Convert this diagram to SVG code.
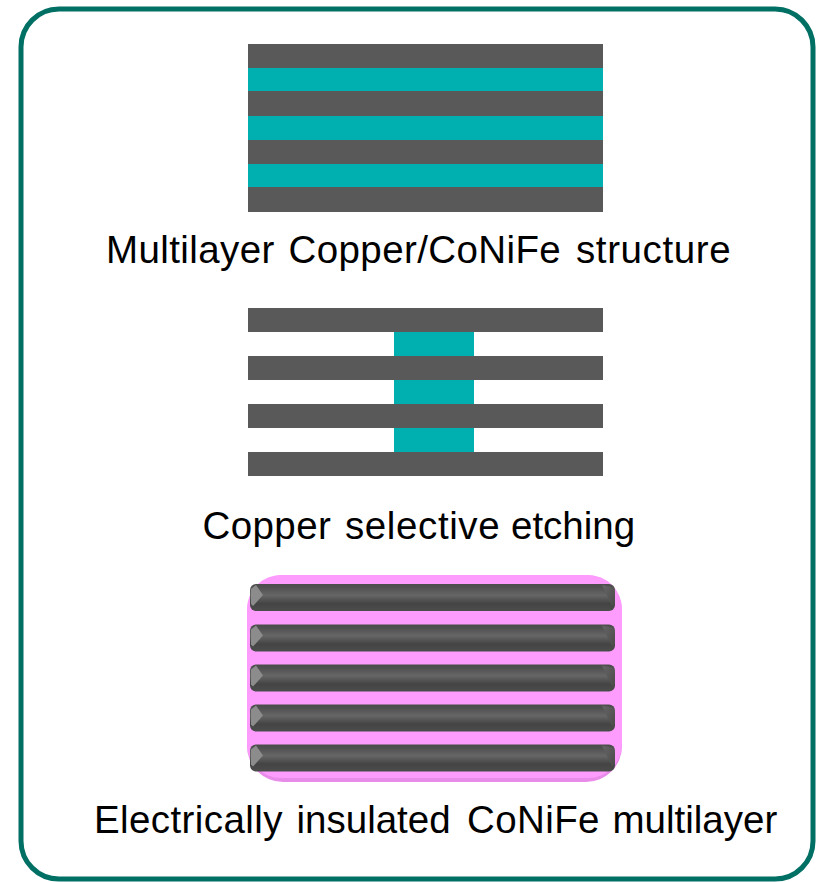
<svg xmlns="http://www.w3.org/2000/svg" xmlns:xlink="http://www.w3.org/1999/xlink" width="819" height="882" viewBox="0 0 819 882">
<style>
.g{fill:#595959}.c{fill:#00afaf}
text{font-family:"Liberation Sans",Arial,sans-serif;font-size:38.500px;fill:#000}
.s{letter-spacing:.4px}.w{letter-spacing:.6px}
</style>
<defs>
<linearGradient id="bar" x1="0" y1="0" x2="0" y2="1">
<stop offset="0" stop-color="#4c4c4c"/><stop offset="0.12" stop-color="#505050"/><stop offset="0.42" stop-color="#666"/><stop offset="0.72" stop-color="#444"/><stop offset="1" stop-color="#4c4c4c"/>
</linearGradient>
<linearGradient id="cap" x1="0" y1="0" x2="1" y2="1">
<stop offset="0" stop-color="#666"/><stop offset="1" stop-color="#4a4a4a"/>
</linearGradient>
<g id="b">
<rect x="250" y="0" width="365" height="27" rx="6" fill="url(#bar)"/>
<path d="M256 1L263 11L253 22L251 20V5Z" fill="#8c8c8c"/>
<path d="M602 1L612 3L615 8V20L612 22Z" fill="url(#cap)"/>
</g>
</defs>
<rect x="21" y="9" width="792" height="870" rx="38" fill="#fff" stroke="#006f64" stroke-width="5"/>
<g id="multilayer">
<rect class="g" x="248" y="44" width="355" height="168"/>
<rect class="c" x="248" y="68" width="355" height="23"/>
<rect class="c" x="248" y="116" width="355" height="24"/>
<rect class="c" x="248" y="164" width="355" height="23"/>
<text y="263"><tspan class="s" x="106">Multilayer</tspan><tspan class="s" x="288.500">Copper/CoNiFe</tspan><tspan class="w" x="576">structure</tspan></text>
</g>
<g id="etched">
<rect class="c" x="394" y="320" width="80" height="144"/>
<rect class="g" x="248" y="308" width="355" height="24"/>
<rect class="g" x="248" y="356" width="355" height="24"/>
<rect class="g" x="248" y="404" width="355" height="24"/>
<rect class="g" x="248" y="452" width="355" height="24"/>
<text y="539"><tspan class="s" x="202.500">Copper</tspan><tspan class="w" x="345">selective</tspan><tspan x="511">etching</tspan></text>
</g>
<g id="insulated">
<rect x="247" y="575" width="375" height="207" rx="36" fill="#e98be9"/>
<rect x="247" y="575" width="375" height="203" rx="34" fill="#fd9cfd"/>
<use xlink:href="#b" y="584"/>
<use xlink:href="#b" y="624.500"/>
<use xlink:href="#b" y="664.500"/>
<use xlink:href="#b" y="704.500"/>
<use xlink:href="#b" y="744.500"/>
<text y="833"><tspan class="s" x="94">Electrically</tspan><tspan x="296.500">insulated</tspan><tspan class="s" x="467">CoNiFe</tspan><tspan x="612.500">multilayer</tspan></text>
</g>
</svg>
